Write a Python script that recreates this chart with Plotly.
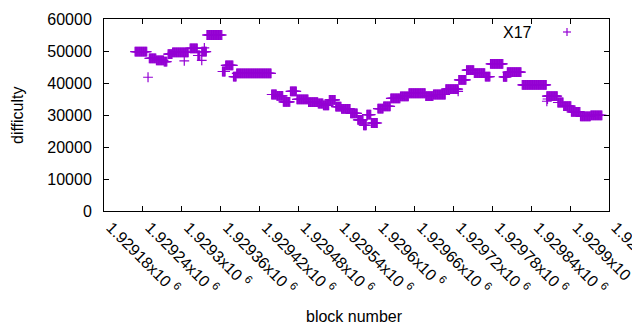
import plotly.graph_objects as go

# Runs of constant difficulty: (first block, last block, difficulty)
run_start = [1929228, 1929250, 1929261, 1929273, 1929279, 1929286, 1929313, 1929325,
             1929331, 1929339, 1929363, 1929368, 1929380, 1929385, 1929439, 1929447,
             1929457, 1929468, 1929478, 1929496, 1929511, 1929519, 1929528, 1929538,
             1929547, 1929561, 1929572, 1929581, 1929586, 1929593, 1929603, 1929612,
             1929623, 1929638, 1929651, 1929677, 1929689, 1929708, 1929728, 1929740,
             1929752, 1929769, 1929777, 1929797, 1929803, 1929826, 1929864, 1929881,
             1929890, 1929902, 1929916, 1929932]
run_end = [1929246, 1929260, 1929272, 1929277, 1929285, 1929310, 1929324, 1929328,
           1929338, 1929362, 1929367, 1929379, 1929384, 1929438, 1929446, 1929456,
           1929467, 1929477, 1929495, 1929510, 1929518, 1929527, 1929537, 1929546,
           1929560, 1929571, 1929580, 1929585, 1929592, 1929602, 1929611, 1929622,
           1929637, 1929650, 1929676, 1929688, 1929707, 1929727, 1929739, 1929751,
           1929768, 1929776, 1929796, 1929802, 1929824, 1929863, 1929880, 1929889,
           1929901, 1929915, 1929931, 1929949]
run_value = [49800, 47700, 47100, 46700, 49000, 49600, 50800, 48600,
             49800, 55000, 43600, 45500, 42000, 43000, 36400, 36000,
             34100, 37400, 34900, 34000, 33600, 33000, 34700, 32600,
             31900, 30500, 28500, 26800, 30100, 27500, 32000, 32700,
             35200, 35800, 36800, 35900, 36400, 38100, 41000, 44000,
             43100, 42000, 46000, 41900, 43400, 39400, 35900, 33900,
             32800, 31000, 29600, 29900]

# Isolated points
single_block = [1929248, 1929304, 1929331, 1929335, 1929727, 1929864, 1929865]
single_value = [41800, 46900, 47100, 51000, 37400, 34300, 35000]

tick_blocks = [1929180 + 60 * i for i in range(14)]
tick_labels = ["1.92918", "1.92924", "1.9293", "1.92936", "1.92942", "1.92948", "1.92954",
               "1.9296", "1.92966", "1.92972", "1.92978", "1.92984", "1.9299", "1.92996"]
y_ticks = [0, 10000, 20000, 30000, 40000, 50000, 60000]

xs, ys = [], []
for s, e, v in zip(run_start, run_end, run_value):
    for b in range(s, e + 1):
        xs.append(b)
        ys.append(v)
xs += single_block
ys += single_value

COLOR = "#9400D3"
FONT = "Liberation Sans"
FS = 16

fig = go.Figure()
fig.add_trace(go.Scatter(
    x=xs, y=ys, mode="markers", name="X17", showlegend=False,
    marker=dict(symbol="cross-thin", size=7, color=COLOR,
                line=dict(width=1.2, color=COLOR)),
))

# The page body has an 8px margin; lay the figure out in page pixels minus that offset.
OFF = 8
W, H = 640 - OFF, 330 - OFF
L, R, T, B = 104 - OFF, 640 - 609, 19 - OFF, 330 - 211
pw, ph = W - L - R, H - T - B

def px(x):
    return (x - OFF - L) / pw

def py(y):
    return (H - B - (y - OFF)) / ph

fig.update_layout(
    width=W, height=H,
    margin=dict(l=L, r=R, t=T, b=B, pad=0),
    paper_bgcolor="white", plot_bgcolor="white",
    font=dict(family=FONT, size=FS, color="black"),
    xaxis=dict(
        range=[1929180, 1929960], tickvals=tick_blocks,
        ticktext=[t + "x10 <sup>6</sup>" for t in tick_labels],
        tickangle=45, ticks="inside", ticklen=5, tickcolor="black",
        ticklabelshift=7, ticklabeloverflow="allow",
        showline=True, linecolor="black", linewidth=1, mirror="ticks",
        showgrid=False, zeroline=False, automargin=False,
    ),
    yaxis=dict(
        range=[0, 60000], tickvals=y_ticks, ticktext=[str(v) for v in y_ticks],
        ticks="inside", ticklen=5, tickcolor="black", ticklabelstandoff=8,
        showline=True, linecolor="black", linewidth=1, mirror="ticks",
        showgrid=False, zeroline=False, automargin=False,
    ),
    annotations=[
        dict(text="difficulty", x=px(17), y=py(115), xref="paper", yref="paper",
             textangle=-90, showarrow=False, xanchor="center", yanchor="middle",
             font=dict(size=FS)),
        dict(text="block number", x=px(354), y=py(316), xref="paper", yref="paper",
             showarrow=False, xanchor="center", yanchor="middle", font=dict(size=FS)),
        dict(text="X17", x=px(534), y=py(32), xref="paper", yref="paper",
             showarrow=False, xanchor="right", yanchor="middle", font=dict(size=FS)),
    ],
    shapes=[
        dict(type="line", xref="paper", yref="paper", x0=px(563), x1=px(571),
             y0=py(32), y1=py(32), line=dict(color=COLOR, width=1.2)),
        dict(type="line", xref="paper", yref="paper", x0=px(567), x1=px(567),
             y0=py(28), y1=py(36), line=dict(color=COLOR, width=1.2)),
    ],
)

fig.write_html("out.html")
